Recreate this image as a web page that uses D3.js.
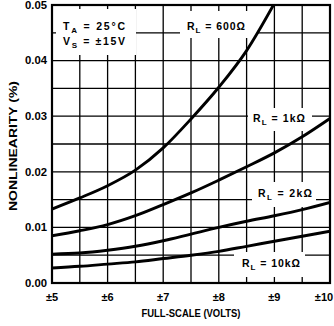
<!DOCTYPE html>
<html>
<head>
<meta charset="utf-8">
<script src="https://cdn.jsdelivr.net/npm/d3@7"></script>
<style>
  body { margin: 0; background: #fff; }
  text { font-family: "Liberation Sans", Arial, sans-serif; font-weight: bold; fill: #000; }
</style>
</head>
<body>
<svg id="chart" width="334" height="326"></svg>
<script>
// full-scale voltage (±V)
var volts = [5, 5.5, 6, 6.5, 7, 7.5, 8, 8.5, 9, 9.5, 10];

// nonlinearity (%)
var rl600 = [0.0133, 0.0153, 0.0175, 0.0203, 0.0243, 0.0295, 0.0352, 0.0418, 0.0503];
var rl1k  = [0.0085, 0.0094, 0.0105, 0.0121, 0.0141, 0.0162, 0.0185, 0.0209, 0.0234, 0.0263, 0.0296];
var rl2k  = [0.0052, 0.0054, 0.0059, 0.0066, 0.0076, 0.0088, 0.0100, 0.0111, 0.0121, 0.0132, 0.0145];
var rl10k = [0.0027, 0.0030, 0.0034, 0.0038, 0.0044, 0.0050, 0.0057, 0.0066, 0.0075, 0.0084, 0.0093];

var yTicks = [0, 0.01, 0.02, 0.03, 0.04, 0.05];
var yTickLabels = ["0.00", "0.01", "0.02", "0.03", "0.04", "0.05"];
var xTicks = [5, 6, 7, 8, 9, 10];
var xTickLabels = ["±5", "±6", "±7", "±8", "±9", "±10"];

var svg = d3.select("#chart");

var x = d3.scaleLinear().domain([5, 10]).range([52, 330]),
    y = d3.scaleLinear().domain([0, 0.05]).range([283, 5]);

svg.append("defs").append("clipPath").attr("id", "clip")
  .append("rect")
    .attr("x", x(5)).attr("y", y(0.05))
    .attr("width", x(10) - x(5)).attr("height", y(0) - y(0.05));

// grid, every 0.5 V and every 0.005 %
var grid = svg.append("g").attr("stroke", "#000").attr("stroke-width", 1.3);
grid.selectAll(".vg").data(d3.range(5.5, 10, 0.5)).enter().append("line")
  .attr("x1", function(d){ return x(d); }).attr("x2", function(d){ return x(d); })
  .attr("y1", y(0.05)).attr("y2", y(0));
grid.selectAll(".hg").data(d3.range(1, 10).map(function(i){ return i * 0.005; })).enter().append("line")
  .attr("x1", x(5)).attr("x2", x(10))
  .attr("y1", function(d){ return y(d); }).attr("y2", function(d){ return y(d); });

// white patches behind the annotations
var boxes = [
  [56, 9, 80, 46],
  [180, 11, 77, 27],
  [248, 108, 64, 23],
  [252, 182, 64, 25],
  [234, 252, 71, 25]
];
svg.selectAll(".box").data(boxes).enter().append("rect")
  .attr("x", function(d){ return d[0]; }).attr("y", function(d){ return d[1]; })
  .attr("width", function(d){ return d[2]; }).attr("height", function(d){ return d[3]; })
  .attr("fill", "#fff");

// frame
svg.append("rect")
  .attr("x", x(5)).attr("y", y(0.05))
  .attr("width", x(10) - x(5)).attr("height", y(0) - y(0.05))
  .attr("fill", "none").attr("stroke", "#000").attr("stroke-width", 2.2);

// curves
var line = d3.line()
  .x(function(d){ return x(d[0]); })
  .y(function(d){ return y(d[1]); })
  .curve(d3.curveMonotoneX);

var series = [rl600, rl1k, rl2k, rl10k];
svg.append("g").attr("clip-path", "url(#clip)")
  .selectAll("path").data(series).enter().append("path")
    .attr("d", function(s){ return line(s.map(function(v, i){ return [volts[i], v]; })); })
    .attr("fill", "none").attr("stroke", "#000").attr("stroke-width", 2.9);

// tick labels
svg.selectAll(".yl").data(yTicks).enter().append("text")
  .attr("x", 47).attr("y", function(d){ return y(d) + 3.8; })
  .attr("text-anchor", "end").attr("font-size", 10.5)
  .attr("textLength", 22).attr("lengthAdjust", "spacingAndGlyphs")
  .text(function(d, i){ return yTickLabels[i]; });

svg.selectAll(".xl").data(xTicks).enter().append("text")
  .attr("x", function(d){ return d === 10 ? x(d) - 6 : x(d); }).attr("y", 301)
  .attr("text-anchor", "middle").attr("font-size", 11)
  .text(function(d, i){ return xTickLabels[i]; });

// axis titles
svg.append("text")
  .attr("x", 191).attr("y", 317)
  .attr("text-anchor", "middle").attr("font-size", 11)
  .attr("textLength", 99).attr("lengthAdjust", "spacingAndGlyphs")
  .text("FULL-SCALE (VOLTS)");

svg.append("text")
  .attr("transform", "translate(17,146) rotate(-90)")
  .attr("text-anchor", "middle").attr("font-size", 11)
  .attr("textLength", 130).attr("lengthAdjust", "spacingAndGlyphs")
  .text("NONLINEARITY (%)");

// annotations
function label(px, py, len, main, sub, rest) {
  var t = svg.append("text").attr("x", px).attr("y", py).attr("font-size", 10.5)
    .attr("textLength", len).attr("lengthAdjust", "spacing");
  t.append("tspan").text(main);
  t.append("tspan").attr("font-size", 8).attr("dy", 2.5).text(sub);
  t.append("tspan").attr("dy", -2.5).text(rest);
}
label(63, 30, 62, "T", "A", " = 25°C");
label(63, 45, 62, "V", "S", " = ±15V");
label(187, 30, 58, "R", "L", " = 600Ω");
label(253, 122, 52, "R", "L", " = 1kΩ");
label(258, 197, 54, "R", "L", " = 2kΩ");
label(242, 267, 58, "R", "L", " = 10kΩ");
</script>
</body>
</html>
